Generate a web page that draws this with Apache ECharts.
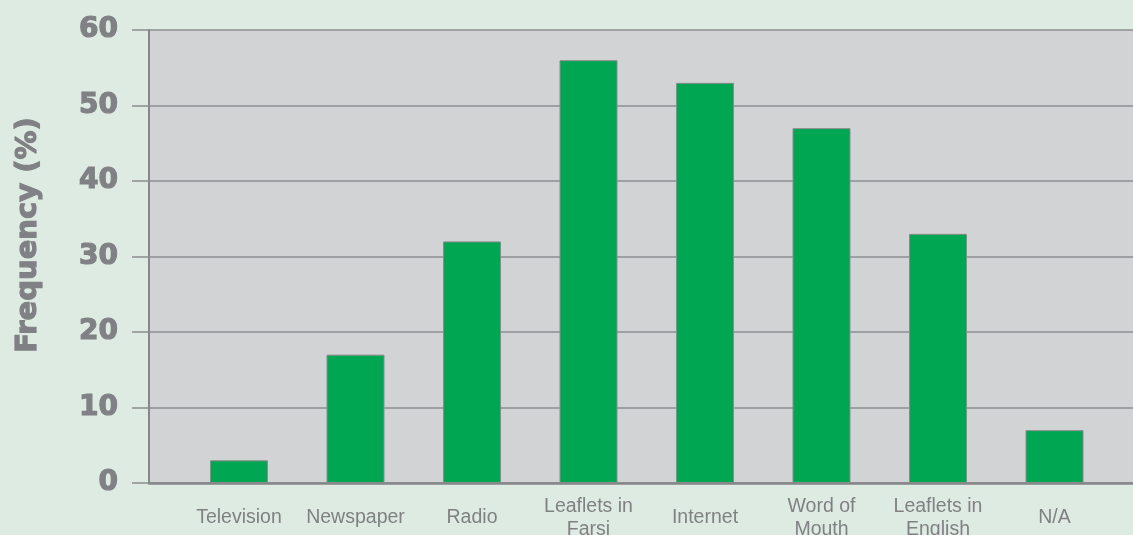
<!DOCTYPE html>
<html>
<head>
<meta charset="utf-8">
<script src="https://cdn.jsdelivr.net/npm/echarts@6/dist/echarts.min.js"></script>
<style>
  html, body { margin: 0; padding: 0; background: #deebe2; }
  #chart { width: 1133px; height: 535px; }
</style>
</head>
<body>
<div id="chart"></div>
<script>
// Sources of information, share of respondents (%)
const categories = ['Television', 'Newspaper', 'Radio', 'Leaflets in\nFarsi', 'Internet', 'Word of\nMouth', 'Leaflets in\nEnglish', 'N/A'];
const frequency = [3, 17, 32, 56, 53, 47, 33, 7];
const yTicks = [0, 10, 20, 30, 40, 50, 60];
const axisTitle = 'Frequency (%)';

const grey = '#808184';
const lineGrey = '#8c8e90';

const chart = echarts.init(document.getElementById('chart'));
chart.setOption({
  backgroundColor: '#deebe2',
  animation: false,
  grid: [
    // frame: plot background, value axis and gridlines
    { left: 149, right: 0, top: 30, height: 453, show: true, backgroundColor: '#d2d3d5', borderWidth: 0, outerBoundsMode: 'none' },
    // bars and category labels
    { left: 180.75, width: 932, top: 30, height: 453, outerBoundsMode: 'none' }
  ],
  xAxis: [
    { gridIndex: 0, type: 'value', min: 0, max: 1, axisLine: { show: true, onZero: false, lineStyle: { color: '#858789', width: 2.5 } },
      axisTick: { show: false }, axisLabel: { show: false }, splitLine: { show: false } },
    { gridIndex: 1, type: 'category', data: categories, axisLine: { show: false }, axisTick: { show: false },
      axisLabel: { interval: 0, margin: 35, verticalAlign: 'middle', lineHeight: 23, fontSize: 19.5,
        fontFamily: 'Liberation Sans', color: grey } }
  ],
  yAxis: [
    { gridIndex: 0, type: 'value', min: yTicks[0], max: yTicks[yTicks.length - 1], interval: 10,
      axisLine: { show: true, lineStyle: { color: '#858789', width: 2 } },
      axisTick: { show: true, inside: false, length: 17, lineStyle: { color: lineGrey, width: 1.5 } },
      axisLabel: { margin: 31, fontSize: 28, fontWeight: 'bold', fontFamily: 'DejaVu Sans', color: grey,
        textBorderColor: grey, textBorderWidth: 1.2 },
      splitLine: { show: true, lineStyle: { color: lineGrey, width: 1.5 } } },
    { gridIndex: 1, type: 'value', min: yTicks[0], max: yTicks[yTicks.length - 1], show: false }
  ],
  graphic: [{
    type: 'text', x: 28, y: 235, rotation: Math.PI / 2,
    style: { text: axisTitle, fontSize: 29, fontWeight: 'bold', fontFamily: 'DejaVu Sans',
      fill: grey, stroke: grey, lineWidth: 1.2, align: 'center', verticalAlign: 'middle' }
  }],
  series: [{
    type: 'bar', xAxisIndex: 1, yAxisIndex: 1, data: frequency, barWidth: 58,
    itemStyle: { color: '#00a651', borderColor: '#8a8b8c', borderWidth: 1 }
  }]
});
</script>
</body>
</html>
